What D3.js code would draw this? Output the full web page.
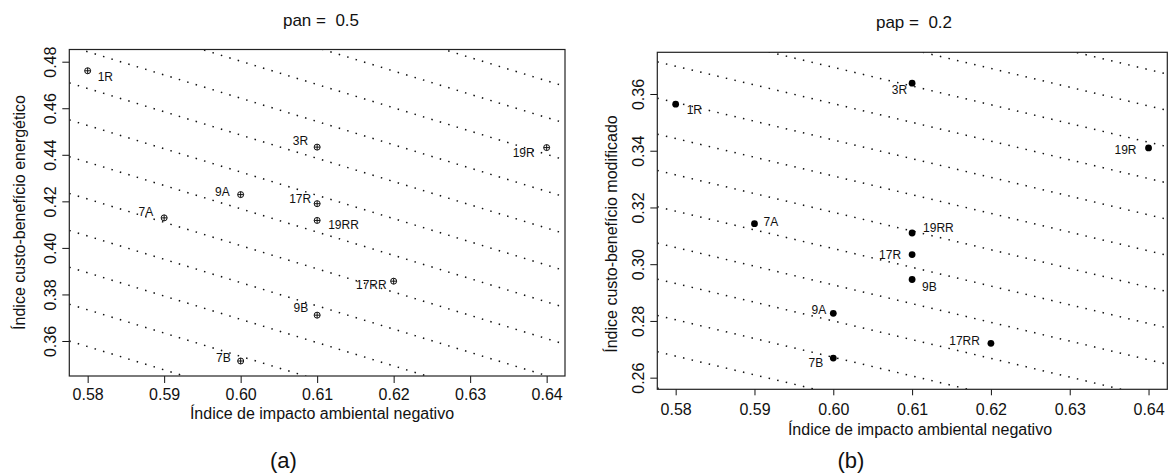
<!DOCTYPE html>
<html>
<head>
<meta charset="utf-8">
<script src="https://cdn.jsdelivr.net/npm/d3@7"></script>
<style>
  html, body { margin: 0; padding: 0; background: #fff; }
  svg { display: block; }
  text { font-family: "Liberation Sans", Arial, Helvetica, sans-serif; fill: #111; white-space: pre; }
</style>
</head>
<body>
<svg id="chart" width="1168" height="475"></svg>
<script>
// ---------- data ----------
const alternatives = ["1R", "3R", "19R", "9A", "17R", "7A", "19RR", "17RR", "9B", "7B"];
const impactoAmbiental = [0.58, 0.61, 0.64, 0.60, 0.61, 0.59, 0.61, 0.62, 0.61, 0.60];
const custoBeneficioEnergetico = [0.4761, 0.4433, 0.4431, 0.4229, 0.4190, 0.4129, 0.4118, 0.3857, 0.3711, 0.3514];
const custoBeneficioModificado = [0.3564, 0.3638, 0.3410, 0.2827, 0.3034, 0.3143, 0.3110, 0.2721, 0.2946, 0.2669];

const xTicks = [0.58, 0.59, 0.60, 0.61, 0.62, 0.63, 0.64];
const yTicksA = [0.36, 0.38, 0.40, 0.42, 0.44, 0.46, 0.48];
const yTicksB = [0.26, 0.28, 0.30, 0.32, 0.34, 0.36];

// iso-index lines: value of y at x = 0.58, and slope dy/dx (negative)
const isoLevelsA = [0.3418, 0.3576, 0.3734, 0.3893, 0.4051, 0.4210, 0.4368, 0.4526, 0.4685, 0.4843, 0.5002, 0.5160, 0.5318, 0.5477];
const isoSlopeA = -1.0;
const isoLevelsB = [0.2421, 0.2548, 0.2676, 0.2804, 0.2932, 0.3059, 0.3187, 0.3315, 0.3443, 0.3570, 0.3698, 0.3826, 0.3954, 0.4082, 0.4209, 0.4337];
const isoSlopeB = -0.66;

const titleA = "pan =  0.5";
const titleB = "pap =  0.2";
const xTitle = "Índice de impacto ambiental negativo";
const yTitleA = "Índice custo-benefício energético";
const yTitleB = "Índice custo-benefício modificado";

// ---------- layout (pixels) ----------
const labelOffsetA = [[10, 6, "start"], [-9, -6, "end"], [-12, 5, "end"], [-11, -3, "end"], [-6, -5, "end"],
                      [-11, -6, "end"], [11, 5, "start"], [-7, 4, "end"], [-9, -7, "end"], [-10, -3, "end"]];
const labelOffsetB = [[11, 6, "start"], [-5, 7, "end"], [-12, 2, "end"], [-7, -3, "end"], [-11, 0, "end"],
                      [9, -2, "start"], [11, -5, "start"], [-11, -2, "end"], [10, 7, "start"], [-10, 5, "end"]];

const svg = d3.select("#chart");

function panel(cfg) {
  const g = svg.append("g");
  const x = d3.scaleLinear().domain(cfg.xDomain).range([cfg.left, cfg.right]);
  const y = d3.scaleLinear().domain(cfg.yDomain).range([cfg.bottom, cfg.top]);

  const clipId = "clip-" + cfg.id;
  svg.append("clipPath").attr("id", clipId)
    .append("rect").attr("x", cfg.left).attr("y", cfg.top)
    .attr("width", cfg.right - cfg.left).attr("height", cfg.bottom - cfg.top);

  // iso lines
  const line = d3.line().x(d => x(d[0])).y(d => y(d[1]));
  g.append("g").attr("clip-path", `url(#${clipId})`)
    .selectAll("path").data(cfg.levels).join("path")
    .attr("d", L => line(cfg.xDomain.map(xx => [xx, L + cfg.slope * (xx - 0.58)])))
    .attr("fill", "none").attr("stroke", "#111").attr("stroke-width", 1.5)
    .attr("stroke-dasharray", "1.5 7.3");

  // x axis
  const xAxis = g.append("g").attr("transform", `translate(0,${cfg.bottom})`)
    .call(d3.axisBottom(x).tickValues(xTicks).tickFormat(d3.format(".2f")).tickSize(cfg.tick).tickPadding(cfg.xPad));
  xAxis.select(".domain").remove();
  xAxis.selectAll("line").attr("stroke", "#111");
  xAxis.selectAll("text").attr("font-size", 16).attr("font-family", null).attr("fill", "#111");

  // y axis (rotated labels, R style)
  const yAxis = g.append("g").attr("transform", `translate(${cfg.left},0)`)
    .call(d3.axisLeft(y).tickValues(cfg.yTicks).tickFormat(d3.format(".2f")).tickSize(7));
  yAxis.select(".domain").remove();
  yAxis.selectAll("line").attr("stroke", "#111");
  yAxis.selectAll("text")
    .attr("font-size", 16).attr("font-family", null).attr("fill", "#111")
    .attr("x", null).attr("dy", null)
    .attr("text-anchor", "middle").attr("dominant-baseline", "central")
    .attr("transform", `translate(${cfg.yLabX - cfg.left},0) rotate(-90)`);

  // box
  g.append("rect").attr("x", cfg.left).attr("y", cfg.top)
    .attr("width", cfg.right - cfg.left).attr("height", cfg.bottom - cfg.top)
    .attr("fill", "none").attr("stroke", "#222").attr("stroke-width", 1.2);

  // points
  const pts = g.append("g").selectAll("g").data(alternatives).join("g")
    .attr("transform", (d, i) => `translate(${x(impactoAmbiental[i])},${y(cfg.values[i])})`);
  if (cfg.symbol === "cross") {
    pts.append("circle").attr("r", 3).attr("fill", "none").attr("stroke", "#111").attr("stroke-width", 1);
    pts.append("path").attr("d", "M-3,0H3M0,-3V3").attr("stroke", "#111").attr("stroke-width", 1);
  } else {
    pts.append("circle").attr("r", 3.4).attr("fill", "#000");
  }
  // labels
  g.append("g").selectAll("text").data(alternatives).join("text")
    .attr("x", (d, i) => x(impactoAmbiental[i]) + cfg.offsets[i][0])
    .attr("y", (d, i) => y(cfg.values[i]) + cfg.offsets[i][1])
    .attr("text-anchor", (d, i) => cfg.offsets[i][2])
    .attr("dominant-baseline", "central")
    .attr("font-size", 12).attr("fill", "#222")
    .text(d => d);

  // titles
  g.append("text").attr("x", cfg.titleX).attr("y", cfg.titleY)
    .attr("xml:space", "preserve")
    .attr("text-anchor", "middle").attr("font-size", 17).text(cfg.title);
  g.append("text").attr("x", cfg.xTitleX).attr("y", cfg.xTitleY)
    .attr("text-anchor", "middle").attr("dominant-baseline", "central").attr("font-size", 16).text(xTitle);
  g.append("text").attr("transform", `translate(${cfg.yTitleX},${cfg.yTitleY}) rotate(-90)`)
    .attr("text-anchor", "middle").attr("dominant-baseline", "central").attr("font-size", 16).text(cfg.yTitle);
  g.append("text").attr("x", cfg.capX).attr("y", cfg.capY)
    .attr("text-anchor", "middle").attr("dominant-baseline", "central").attr("font-size", 22).text(cfg.caption);
}

panel({
  id: "a", left: 69.3, right: 565, top: 49.5, bottom: 376,
  xDomain: [0.5776, 0.6424], yDomain: [0.34496, 0.48524],
  yTicks: yTicksA, values: custoBeneficioEnergetico, levels: isoLevelsA, slope: isoSlopeA,
  symbol: "cross", offsets: labelOffsetA, tick: 7, xPad: 6, yLabX: 50.5,
  title: titleA, titleX: 321, titleY: 26,
  xTitleX: 322, xTitleY: 413, yTitle: yTitleA, yTitleX: 19.5, yTitleY: 212.5,
  caption: "(a)", capX: 283.5, capY: 460
});

panel({
  id: "b", left: 657.3, right: 1167.3, top: 52.3, bottom: 389.3,
  xDomain: [0.57767, 0.64238], yDomain: [0.2559, 0.3747],
  yTicks: yTicksB, values: custoBeneficioModificado, levels: isoLevelsB, slope: isoSlopeB,
  symbol: "dot", offsets: labelOffsetB, tick: 6, xPad: 8, yLabX: 638,
  title: titleB, titleX: 914, titleY: 28,
  xTitleX: 920, xTitleY: 429.5, yTitle: yTitleB, yTitleX: 611, yTitleY: 234,
  caption: "(b)", capX: 851, capY: 460
});
</script>
</body>
</html>
